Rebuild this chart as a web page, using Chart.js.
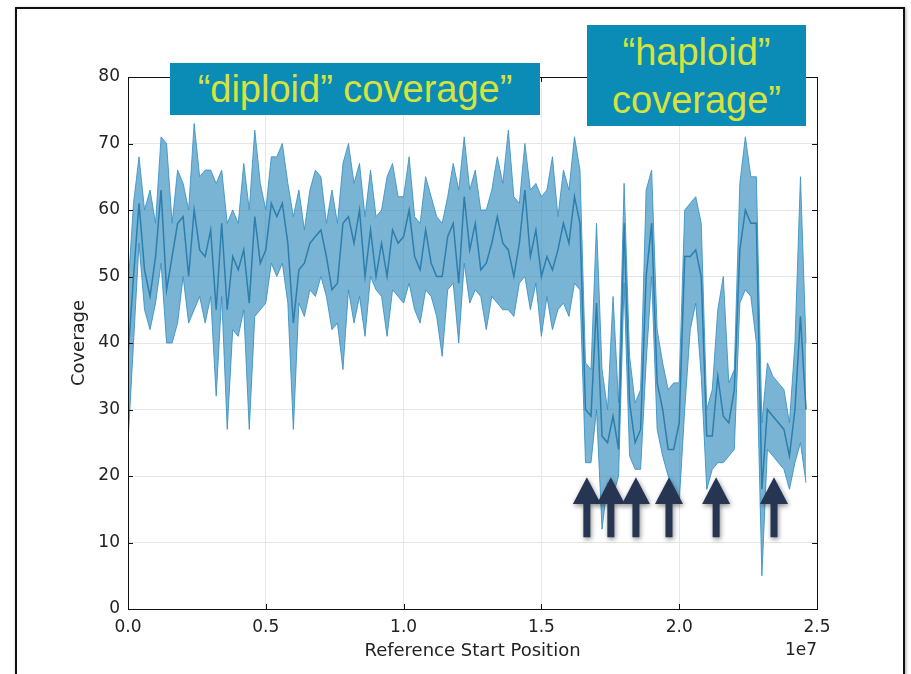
<!DOCTYPE html>
<html>
<head>
  <title>Coverage</title>
  <script src="https://cdn.jsdelivr.net/npm/chart.js"></script>
  <style>
    html, body { margin: 0; padding: 0; background: #fff; }
    #wrap { position: relative; width: 911px; height: 674px; overflow: hidden; }
    #frame { position: absolute; left: 15px; top: 7px; width: 886px; height: 700px; border: 2px solid #111; box-shadow: 1px 1px 3px rgba(0,0,0,0.35); }
    canvas { position: absolute; left: 0; top: 0; }
    .note { position: absolute; background: #0a8cb6; color: #d6e33c; font-family: 'Liberation Sans', Arial, sans-serif; font-size: 38px; text-align: center; }
    #diploid { left: 170px; top: 63px; width: 370px; height: 52px; line-height: 52px; }
    #haploid { left: 587px; top: 25px; width: 219px; height: 101px; line-height: 48px; padding-top: 3px; box-sizing: border-box; }
  </style>
</head>
<body>
  <div id="wrap">
    <div id="frame"></div>
    <canvas id="covChart" width="911" height="674"></canvas>
    <div id="diploid" class="note">“diploid” coverage”</div>
    <div id="haploid" class="note">“haploid”<br>coverage”</div>
  </div>
  <script>
    // bins of 200 kb along the reference
    const BIN = 2e5;

    const meanCov = [
      38,50,61,51,47,53,63,48,53,58,59,50,60,54,53,57,45,58,45,53,51,54,46,59,52,54,61,
      59,61,55,43,51,52,55,56,57,53,48,49,58,59,55,60,50,57,50,55,50,57,55,56,60,53,
      51,57,52,50,50,56,58,49,62,54,58,51,52,55,59,55,54,50,55,63,53,57,50,53,51,54,58,55,62,58,
      30,29,46,26,25,29,24,58,31,25,27,50,58,34,30,24,24,28,53,53,54,50,26,26,35,29,28,33,54,60,58,58,18,30,29,28,27,23,30,44,30
    ];
    const upperCov = [
      48,61,68,60,63,58,71,70,58,66,64,60,73,65,66,66,64,66,58,60,58,67,60,72,64,60,68,
      68,70,64,59,63,57,63,66,65,58,63,58,67,70,64,67,59,66,59,60,65,67,62,62,68,59,
      58,65,62,59,58,62,67,63,71,63,66,60,60,63,68,64,72,62,61,70,63,64,62,63,68,59,66,63,71,66,
      37,36,58,36,30,47,31,64,38,31,33,63,66,42,37,33,34,34,60,61,62,58,30,33,45,50,34,36,64,71,65,65,28,37,35,34,33,28,40,65,40
    ];
    const lowerCov = [
      25,40,55,45,42,46,52,40,40,43,50,43,45,47,43,47,32,47,27,42,41,45,27,44,45,46,52,
      50,52,46,27,46,44,48,47,50,47,42,43,36,48,43,47,41,50,48,47,41,48,47,46,49,45,
      43,48,47,44,38,48,49,40,52,46,48,47,42,47,46,45,45,44,49,50,45,49,41,47,42,45,46,44,49,48,
      22,22,30,12,19,17,20,49,23,21,21,37,50,27,23,20,18,16,30,42,46,35,18,21,22,22,23,24,46,48,47,40,5,24,23,22,21,18,22,25,19
    ];

    // haploid dips marked with arrows (reference start position)
    const arrowPos = [1.665e7, 1.752e7, 1.843e7, 1.963e7, 2.134e7, 2.344e7];

    const xTicks = [0, 5e6, 1e7, 1.5e7, 2e7, 2.5e7];
    const yTicks = [0, 10, 20, 30, 40, 50, 60, 70, 80];

    const pts = arr => arr.map((v, i) => ({ x: i * BIN, y: v }));

    const decor = {
      id: 'decor',
      afterDraw(chart) {
        const { ctx, chartArea: a, scales: { x, y } } = chart;
        ctx.save();
        // axes box and inward ticks
        ctx.strokeStyle = '#111';
        ctx.lineWidth = 1;
        ctx.strokeRect(a.left + 0.5, a.top + 0.5, a.right - a.left, a.bottom - a.top);
        ctx.beginPath();
        xTicks.forEach(v => {
          const px = Math.round(x.getPixelForValue(v)) + 0.5;
          ctx.moveTo(px, a.bottom); ctx.lineTo(px, a.bottom - 5);
          ctx.moveTo(px, a.top); ctx.lineTo(px, a.top + 5);
        });
        yTicks.forEach(v => {
          const py = Math.round(y.getPixelForValue(v)) + 0.5;
          ctx.moveTo(a.left, py); ctx.lineTo(a.left + 5, py);
          ctx.moveTo(a.right, py); ctx.lineTo(a.right - 5, py);
        });
        ctx.stroke();
        // offset text
        ctx.fillStyle = '#222';
        ctx.font = '17px "DejaVu Sans"';
        ctx.textAlign = 'right';
        ctx.textBaseline = 'middle';
        ctx.fillText('1e7', a.right, 651);
        // arrows
        ctx.fillStyle = '#253552';
        ctx.shadowColor = 'rgba(0,0,0,0.45)';
        ctx.shadowBlur = 5;
        ctx.shadowOffsetX = 1;
        ctx.shadowOffsetY = 2;
        const tip = y.getPixelForValue(19.8), base = y.getPixelForValue(15.8), end = y.getPixelForValue(10.8);
        arrowPos.forEach(v => {
          const px = x.getPixelForValue(v);
          ctx.beginPath();
          ctx.moveTo(px, tip);
          ctx.lineTo(px + 14, base);
          ctx.lineTo(px + 3.5, base);
          ctx.lineTo(px + 3.5, end);
          ctx.lineTo(px - 3.5, end);
          ctx.lineTo(px - 3.5, base);
          ctx.lineTo(px - 14, base);
          ctx.closePath();
          ctx.fill();
        });
        ctx.restore();
      }
    };

    const tickFont = { family: 'DejaVu Sans', size: 17 };
    const titleFont = { family: 'DejaVu Sans', size: 18 };

    new Chart(document.getElementById('covChart'), {
      type: 'line',
      data: {
        datasets: [
          { label: 'upper', data: pts(upperCov), borderColor: 'rgba(55,145,195,0.85)', borderWidth: 1,
            backgroundColor: 'rgba(49,140,190,0.65)', fill: '+1', pointRadius: 0 },
          { label: 'lower', data: pts(lowerCov), borderColor: 'rgba(55,145,195,0.85)', borderWidth: 1,
            fill: false, pointRadius: 0 },
          { label: 'mean', data: pts(meanCov), borderColor: '#23648c', borderWidth: 1.5,
            fill: false, pointRadius: 0 }
        ]
      },
      options: {
        responsive: false,
        animation: false,
        layout: { padding: { left: 0, right: 94, top: 77, bottom: 0 } },
        plugins: { legend: { display: false }, tooltip: { enabled: false } },
        scales: {
          x: {
            type: 'linear', min: 0, max: 2.5e7,
            afterFit: s => { s.height = 65; },
            afterBuildTicks: s => { s.ticks = xTicks.map(v => ({ value: v })); },
            ticks: { callback: v => (v / 1e7).toFixed(1), font: tickFont, color: '#222', padding: 8, maxRotation: 0 },
            grid: { color: '#e6e6e6', drawTicks: false },
            border: { display: false },
            title: { display: true, text: 'Reference Start Position', font: titleFont, color: '#222', padding: { top: 4, bottom: 12 } }
          },
          y: {
            min: 0, max: 80,
            afterFit: s => { s.width = 128; },
            afterBuildTicks: s => { s.ticks = yTicks.map(v => ({ value: v })); },
            ticks: { font: tickFont, color: '#222', padding: 8 },
            grid: { color: '#e6e6e6', drawTicks: false },
            border: { display: false },
            title: { display: true, text: 'Coverage', font: titleFont, color: '#222', padding: { top: 69, bottom: 0 } }
          }
        }
      },
      plugins: [decor]
    });
  </script>
</body>
</html>
